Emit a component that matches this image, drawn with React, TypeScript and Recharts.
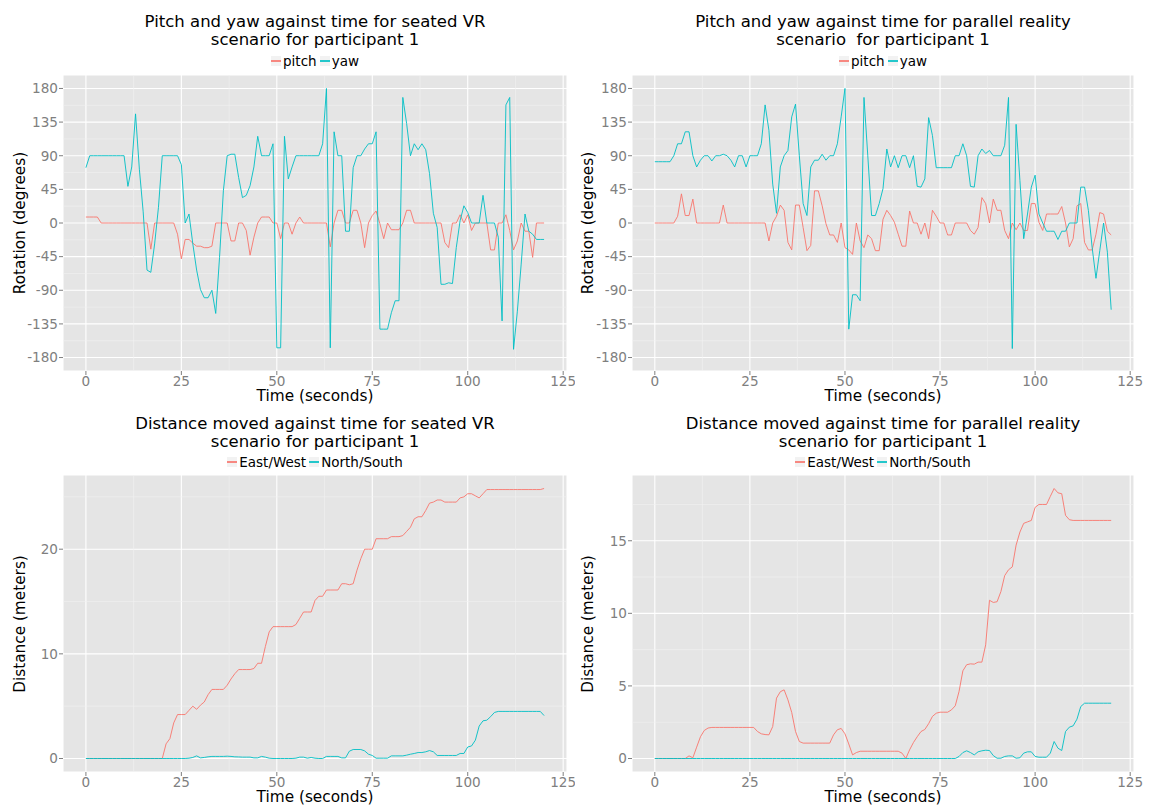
import { LineChart, Line, XAxis, YAxis, CartesianGrid, ReferenceLine } from 'recharts';

// one sample per second, 0..120
const seconds = [
  0, 1, 2, 3, 4, 5, 6, 7, 8, 9,
  10, 11, 12, 13, 14, 15, 16, 17, 18, 19,
  20, 21, 22, 23, 24, 25, 26, 27, 28, 29,
  30, 31, 32, 33, 34, 35, 36, 37, 38, 39,
  40, 41, 42, 43, 44, 45, 46, 47, 48, 49,
  50, 51, 52, 53, 54, 55, 56, 57, 58, 59,
  60, 61, 62, 63, 64, 65, 66, 67, 68, 69,
  70, 71, 72, 73, 74, 75, 76, 77, 78, 79,
  80, 81, 82, 83, 84, 85, 86, 87, 88, 89,
  90, 91, 92, 93, 94, 95, 96, 97, 98, 99,
  100, 101, 102, 103, 104, 105, 106, 107, 108, 109,
  110, 111, 112, 113, 114, 115, 116, 117, 118, 119,
  120,
];

const vrPitch = [
  8, 8, 8, 8, 0, 0, 0, 0, 0, 0,
  0, 0, 0, 0, 0, 0, 0, -35, 0, 0,
  0, 0, 0, 0, -15, -48, -22, -22, -27, -31,
  -31, -33, -33, -31, 0, 0, 0, 0, -24, -24,
  0, 0, -10, -43, -19, 0, 8, 8, 8, 0,
  0, -21, 0, 0, -15, 0, 8, 0, 0, 0,
  0, 0, 0, 0, -32, 0, 17, 17, 0, 0,
  17, 17, 0, -33, 0, 10, 16, -1, -21, 0,
  -9, -9, -9, 0, 17, 17, 0, 0, 0, 0,
  0, 0, 0, 0, -26, -33, 0, 0, 11, 0,
  11, -10, 0, 0, 0, 0, -36, -36, 0, 0,
  11, -10, -36, -24, 0, -11, -11, -46, 0, 0,
  0,
];

const vrYaw = [
  74, 90, 90, 90, 90, 90, 90, 90, 90, 90,
  90, 49, 75, 146, 72, 15, -63, -66, -28, 21,
  90, 90, 90, 90, 90, 78, 0, 12, -28, -63,
  -89, -100, -100, -90, -121, -46, 43, 90, 92, 92,
  61, 34, 37, 50, 75, 116, 90, 90, 90, 106,
  -167, -167, 116, 59, 75, 90, 90, 90, 90, 90,
  90, 90, 106, 180, -167, 122, 90, 90, -11, -11,
  74, 90, 90, 99, 106, 106, 122, -142, -142, -142,
  -120, -104, -104, 168, 133, 90, 106, 98, 106, 98,
  66, 13, -6, -82, -82, -80, -81, -33, 3, 23,
  14, 0, 0, 0, 37, 0, 0, 0, -19, -131,
  158, 168, -169, -118, -55, 12, -11, -15, -22, -22,
  -22,
];

const prPitch = [
  0, 0, 0, 0, 0, 0, 9, 39, 10, 10,
  32, 0, 0, 0, 0, 0, 0, 0, 24, 0,
  0, 0, 0, 0, 0, 0, 0, 0, 0, 0,
  -24, 0, 9, 24, 17, -26, -36, 24, 24, -6,
  -37, -30, 43, 43, 23, -1, -16, -16, -26, 0,
  -33, -36, -42, 0, -24, -33, -16, -21, -37, -37,
  5, 17, 10, 1, -15, -31, -31, 16, 0, 0,
  -15, 0, -21, 17, 9, 0, 0, -16, -16, 0,
  0, 0, 0, -10, -15, -6, 34, 26, 0, 32,
  17, 17, -10, -21, 0, -9, 0, -10, -10, 26,
  26, 1, -10, 12, 12, 12, 12, 22, 0, -32,
  -21, 23, 26, -26, -36, -36, -15, 14, 12, -11,
  -16,
];

const prYaw = [
  82, 82, 82, 82, 82, 90, 106, 106, 122, 122,
  90, 75, 84, 90, 90, 83, 90, 90, 92, 90,
  84, 75, 90, 90, 75, 90, 90, 90, 106, 158,
  124, 52, 13, 75, 90, 97, 142, 159, 90, 26,
  10, 75, 84, 84, 92, 84, 90, 90, 106, 142,
  180, -142, -96, -96, -104, 168, 90, 10, 10, 26,
  46, 99, 75, 90, 74, 90, 90, 74, 90, 49,
  48, 59, 141, 117, 74, 74, 74, 74, 74, 90,
  90, 106, 90, 49, 48, 90, 99, 93, 97, 90,
  90, 90, 104, 168, -168, 132, 57, -21, 12, 48,
  64, 12, 0, -11, -11, -11, -22, -11, -11, 0,
  0, 0, 48, 48, 17, -33, -74, -37, 0, -39,
  -116,
];

const vrEastWest = [
  0, 0, 0, 0, 0, 0, 0, 0, 0, 0,
  0, 0, 0, 0, 0, 0, 0, 0, 0, 0,
  0, 1.4, 1.9, 3.4, 4.2, 4.2, 4.2, 4.6, 5.0, 4.7,
  5.1, 5.4, 6.1, 6.6, 6.6, 6.6, 6.6, 7.0, 7.6, 8.1,
  8.5, 8.5, 8.5, 8.5, 8.6, 9.1, 9.1, 10.7, 12.1, 12.6,
  12.6, 12.6, 12.6, 12.6, 12.6, 12.8, 13.4, 14.0, 14.0, 14.0,
  15.1, 15.5, 15.5, 16.1, 16.1, 16.1, 16.1, 16.7, 16.7, 16.6,
  16.7, 18.0, 19.1, 20.0, 20.0, 20.0, 21.0, 21.0, 21.0, 21.0,
  21.2, 21.2, 21.2, 21.3, 21.7, 22.1, 22.9, 23.1, 23.1, 23.7,
  24.4, 24.5, 24.7, 24.7, 24.5, 24.5, 24.5, 24.5, 24.9, 25.0,
  25.3, 25.3, 25.1, 24.9, 25.3, 25.7, 25.7, 25.7, 25.7, 25.7,
  25.7, 25.7, 25.7, 25.7, 25.7, 25.7, 25.7, 25.7, 25.7, 25.7,
  25.8,
];

const vrNorthSouth = [
  0, 0, 0, 0, 0, 0, 0, 0, 0, 0,
  0, 0, 0, 0, 0, 0, 0, 0, 0, 0,
  0, 0, 0, 0, 0, 0, 0, 0.03, 0.1, 0.25,
  0.06, 0.1, 0.16, 0.2, 0.2, 0.2, 0.2, 0.22, 0.2, 0.16,
  0.15, 0.13, 0.13, 0.13, 0.06, 0.06, 0.2, 0.13, 0.03, 0,
  0, 0, 0, 0, 0, 0.03, 0.13, 0.13, 0.03, 0.1,
  0.03, 0, 0, 0.2, 0.2, 0.2, 0.2, 0.06, 0.06, 0.7,
  0.86, 0.86, 0.86, 0.73, 0.41, 0.29, 0.03, 0.03, 0.03, 0.03,
  0.25, 0.25, 0.25, 0.25, 0.32, 0.41, 0.48, 0.57, 0.57, 0.64,
  0.76, 0.64, 0.29, 0.29, 0.29, 0.29, 0.29, 0.29, 0.48, 0.48,
  1.1, 1.2, 1.75, 3.1, 3.6, 3.66, 4.0, 4.4, 4.5, 4.5,
  4.5, 4.5, 4.5, 4.5, 4.5, 4.5, 4.5, 4.5, 4.5, 4.5,
  4.1,
];

const prEastWest = [
  0, 0, 0, 0, 0, 0, 0, 0, 0, 0.18,
  0.05, 0.78, 1.5, 1.93, 2.1, 2.14, 2.14, 2.14, 2.14, 2.14,
  2.14, 2.14, 2.14, 2.14, 2.14, 2.14, 2.14, 1.86, 1.7, 1.65,
  1.63, 2.2, 4.16, 4.6, 4.73, 4.04, 3.17, 1.86, 1.17, 1.06,
  1.06, 1.06, 1.06, 1.06, 1.06, 1.06, 1.06, 1.63, 1.98, 2.07,
  1.7, 1.0, 0.25, 0.41, 0.5, 0.5, 0.5, 0.5, 0.5, 0.5,
  0.5, 0.5, 0.5, 0.5, 0.5, 0.37, 0, 0.6, 1.1, 1.5,
  1.86, 2.0, 2.4, 2.9, 3.12, 3.19, 3.19, 3.19, 3.35, 3.63,
  4.62, 6.04, 6.46, 6.52, 6.5, 6.64, 6.64, 7.83, 10.9, 10.75,
  10.8, 11.5, 12.6, 13.0, 13.2, 14.7, 15.6, 16.2, 16.3, 16.4,
  17.3, 17.5, 17.5, 17.5, 18.06, 18.6, 18.3, 18.24, 16.75, 16.45,
  16.4, 16.4, 16.4, 16.4, 16.4, 16.4, 16.4, 16.4, 16.4, 16.4,
  16.4,
];

const prNorthSouth = [
  0, 0, 0, 0, 0, 0, 0, 0, 0, 0,
  0, 0, 0, 0, 0, 0, 0, 0, 0, 0,
  0, 0, 0, 0, 0, 0, 0, 0, 0, 0,
  0, 0, 0, 0, 0, 0, 0, 0, 0, 0,
  0, 0, 0, 0, 0, 0, 0, 0, 0, 0,
  0, 0, 0, 0, 0, 0, 0, 0, 0, 0,
  0, 0, 0, 0, 0, 0, 0, 0, 0, 0,
  0, 0, 0, 0, 0, 0, 0, 0, 0, 0,
  0.14, 0.41, 0.53, 0.41, 0.25, 0.46, 0.53, 0.57, 0.55, 0.2,
  0.02, 0.02, 0.14, 0.18, 0.18, 0.02, 0.05, 0.37, 0.46, 0.46,
  0.14, 0.09, 0.09, 0.09, 0.37, 1.17, 0.71, 0.55, 1.86, 2.16,
  2.25, 2.71, 3.58, 3.81, 3.81, 3.81, 3.81, 3.81, 3.81, 3.81,
  3.81,
];

const timeTicks = [0, 25, 50, 75, 100, 125];
const timeMinor = [12.5, 37.5, 62.5, 87.5, 112.5];
const rotationTicks = [-180, -135, -90, -45, 0, 45, 90, 135, 180];
const rotationMinor = [-157.5, -112.5, -67.5, -22.5, 22.5, 67.5, 112.5, 157.5];
const vrDistTicks = [0, 10, 20];
const vrDistMinor = [5, 15, 25];
const prDistTicks = [0, 5, 10, 15];
const prDistMinor = [2.5, 7.5, 12.5, 17.5];

const RED = '#F8766D';
const TEAL = '#00BFC4';
const FONT = '"DejaVu Sans", Verdana, sans-serif';

const rows = (a: number[], b: number[]) => seconds.map((t, i) => ({ t, a: a[i], b: b[i] }));

interface PanelProps {
  left: number;
  top: number;
  width: number;
  height: number;
  plotLeft: number;
  plotRight: number;
  plotTop: number;
  plotBottom: number;
  titleY: number;
  legendY: number;
  xTitleY: number;
  yTitleX: number;
  title: string[];
  names: [string, string];
  yLabel: string;
  data: { t: number; a: number; b: number }[];
  yDomain: [number, number];
  yTicks: number[];
  yMinor: number[];
}

function Key({ color }: { color: string }) {
  return (
    <span style={{ display: 'inline-block', position: 'relative', width: 10, height: 10, background: '#F2F2F2' }}>
      <span style={{ position: 'absolute', left: 0, right: 0, top: 4.3, height: 1.5, background: color, opacity: 0.85 }} />
    </span>
  );
}

function Panel(p: PanelProps) {
  const cx = (p.plotLeft + p.plotRight) / 2;
  const cy = (p.plotTop + p.plotBottom) / 2;
  return (
    <>
      <div style={{ position: 'absolute', left: cx - 300, width: 600, top: p.titleY - 9, textAlign: 'center', fontSize: 16.5, lineHeight: '18px', color: '#000', whiteSpace: 'pre' }}>
        {p.title.map((l) => (
          <div key={l}>{l}</div>
        ))}
      </div>
      <div style={{ position: 'absolute', left: cx - 200, width: 400, top: p.legendY - 8, height: 16, display: 'flex', justifyContent: 'center', alignItems: 'center', fontSize: 13.5, color: '#000' }}>
        <Key color={RED} />
        <span style={{ marginLeft: 2, marginRight: 3 }}>{p.names[0]}</span>
        <Key color={TEAL} />
        <span style={{ marginLeft: 2 }}>{p.names[1]}</span>
      </div>
      <div style={{ position: 'absolute', left: cx - 150, width: 300, top: p.xTitleY - 8, height: 16, lineHeight: '16px', textAlign: 'center', fontSize: 15.3 }}>
        Time (seconds)
      </div>
      <div style={{ position: 'absolute', left: p.yTitleX - 150, width: 300, top: cy - 8, height: 16, lineHeight: '16px', textAlign: 'center', fontSize: 15.3, transform: 'rotate(-90deg)' }}>
        {p.yLabel}
      </div>
      <div style={{ position: 'absolute', left: p.left, top: p.top }}>
        <LineChart
          width={p.width}
          height={p.height}
          data={p.data}
          margin={{ top: p.plotTop - p.top, right: p.left + p.width - p.plotRight, bottom: 0, left: 0 }}
        >
          <CartesianGrid stroke="#FFFFFF" strokeWidth={1.1} fill="#E5E5E5" />
          {timeMinor.map((v) => (
            <ReferenceLine key={'x' + v} x={v} stroke="#F2F2F2" strokeWidth={0.6} />
          ))}
          {p.yMinor.map((v) => (
            <ReferenceLine key={'y' + v} y={v} stroke="#F2F2F2" strokeWidth={0.6} />
          ))}
          <XAxis
            dataKey="t"
            type="number"
            domain={[-6, 126]}
            allowDataOverflow
            ticks={timeTicks}
            height={p.top + p.height - p.plotBottom}
            axisLine={false}
            tickLine={{ stroke: '#7F7F7F' }}
            tickSize={4}
            tickMargin={1}
            tick={{ fill: '#7F7F7F', fontSize: 13.6, fontFamily: FONT }}
          />
          <YAxis
            type="number"
            domain={p.yDomain}
            allowDataOverflow
            ticks={p.yTicks}
            width={p.plotLeft - p.left}
            axisLine={false}
            tickLine={{ stroke: '#7F7F7F' }}
            tickSize={4}
            tickMargin={1}
            tick={{ fill: '#7F7F7F', fontSize: 13.6, fontFamily: FONT }}
          />
          <Line type="linear" dataKey="a" stroke={RED} strokeWidth={1} strokeOpacity={0.9} dot={false} isAnimationActive={false} />
          <Line type="linear" dataKey="b" stroke={TEAL} strokeWidth={1} strokeOpacity={0.9} dot={false} isAnimationActive={false} />
        </LineChart>
      </div>
    </>
  );
}

export default function App() {
  const topRow = { top: 0, height: 403, plotTop: 75, plotBottom: 371, titleY: 21.5, legendY: 61, xTitleY: 395.5 };
  const bottomRow = { top: 401, height: 404, plotTop: 475, plotBottom: 772, titleY: 423.5, legendY: 462, xTitleY: 797 };
  const leftCol = { left: 0, width: 575, plotLeft: 63, plotRight: 567, yTitleX: 20 };
  const rightCol = { left: 575, width: 575, plotLeft: 632, plotRight: 1134, yTitleX: 588 };
  return (
    <div style={{ position: 'absolute', left: 0, top: 0, width: 1150, height: 805, background: '#FFFFFF', fontFamily: FONT, overflow: 'hidden' }}>
      <Panel
        {...topRow}
        {...leftCol}
        title={['Pitch and yaw against time for seated VR', 'scenario for participant 1']}
        names={['pitch', 'yaw']}
        yLabel="Rotation (degrees)"
        data={rows(vrPitch, vrYaw)}
        yDomain={[-198, 198]}
        yTicks={rotationTicks}
        yMinor={rotationMinor}
      />
      <Panel
        {...topRow}
        {...rightCol}
        title={['Pitch and yaw against time for parallel reality', 'scenario  for participant 1']}
        names={['pitch', 'yaw']}
        yLabel="Rotation (degrees)"
        data={rows(prPitch, prYaw)}
        yDomain={[-198, 198]}
        yTicks={rotationTicks}
        yMinor={rotationMinor}
      />
      <Panel
        {...bottomRow}
        {...leftCol}
        title={['Distance moved against time for seated VR', 'scenario for participant 1']}
        names={['East/West', 'North/South']}
        yLabel="Distance (meters)"
        data={rows(vrEastWest, vrNorthSouth)}
        yDomain={[-1.29, 27.09]}
        yTicks={vrDistTicks}
        yMinor={vrDistMinor}
      />
      <Panel
        {...bottomRow}
        {...rightCol}
        title={['Distance moved against time for parallel reality', 'scenario for participant 1']}
        names={['East/West', 'North/South']}
        yLabel="Distance (meters)"
        data={rows(prEastWest, prNorthSouth)}
        yDomain={[-0.93, 19.53]}
        yTicks={prDistTicks}
        yMinor={prDistMinor}
      />
    </div>
  );
}
